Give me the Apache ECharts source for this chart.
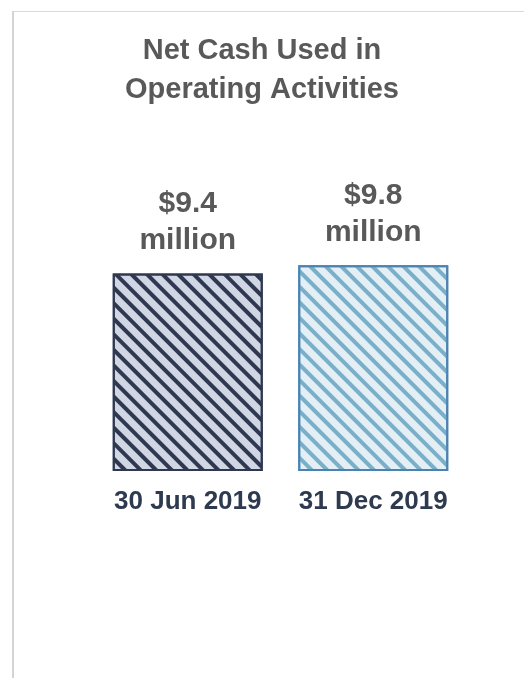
<!DOCTYPE html>
<html>
<head>
<meta charset="utf-8">
<style>
  html, body { margin: 0; padding: 0; background: #ffffff; }
  #chart { width: 524px; height: 679px; }
</style>
<script src="https://cdn.jsdelivr.net/npm/echarts@6/dist/echarts.min.js"></script>
</head>
<body>
<div id="chart"></div>
<script>
// Net cash used in operating activities, US$ million
var categories = ['30 Jun 2019', '31 Dec 2019'];
var values = [9.4, 9.8];
var valueLabels = ['$9.4\nmillion', '$9.8\nmillion'];

var FONT = '"Liberation Sans", Arial, Helvetica, sans-serif';

// Hatched fill per period: base colour, stripe colour, outline
var barStyles = [
  { fill: '#d0d6e3', stripe: '#2e3850', border: '#2e3850' },
  { fill: '#e4eff5', stripe: '#79afc9', border: '#4a82b2' }
];

var chart = echarts.init(document.getElementById('chart'), null, { renderer: 'canvas' });

var option = {
  backgroundColor: '#ffffff',
  animation: false,
  title: {
    text: 'Net Cash Used in\nOperating Activities',
    left: 'center',
    top: 26,
    textStyle: {
      fontFamily: FONT,
      fontSize: 29,
      fontWeight: 'bold',
      color: '#595959',
      lineHeight: 39
    }
  },
  graphic: [
    { type: 'line', shape: { x1: 12, y1: 11.5, x2: 524, y2: 11.5 }, style: { stroke: '#d9d9d9', lineWidth: 1 } },
    { type: 'line', shape: { x1: 13, y1: 11, x2: 13, y2: 678 }, style: { stroke: '#d4d4d4', lineWidth: 2 } }
  ],
  grid: { left: 95, right: 58, top: 261, bottom: 208 },
  xAxis: {
    type: 'category',
    data: categories,
    axisLine: { show: false },
    axisTick: { show: false },
    axisLabel: {
      interval: 0,
      hideOverlap: false,
      margin: 18,
      fontFamily: FONT,
      fontSize: 26,
      fontWeight: 'bold',
      color: '#2e3a4f'
    }
  },
  yAxis: {
    type: 'value',
    min: 0,
    max: 10,
    show: false,
    splitLine: { show: false }
  },
  series: [{
    type: 'bar',
    barWidth: 150,
    data: values.map(function (v, i) {
      var s = barStyles[i];
      return {
        value: v,
        itemStyle: {
          color: s.fill,
          borderColor: s.border,
          borderWidth: 2,
          decal: {
            symbol: 'rect',
            symbolSize: 1,
            color: s.stripe,
            dashArrayX: [1, 0],
            dashArrayY: [4, 7],
            rotation: Math.PI / 4
          }
        },
        label: {
          show: true,
          position: 'top',
          distance: 14,
          formatter: valueLabels[i],
          fontFamily: FONT,
          fontSize: 30,
          fontWeight: 'bold',
          color: '#595959',
          lineHeight: 37
        }
      };
    })
  }]
};

chart.setOption(option);
</script>
</body>
</html>
